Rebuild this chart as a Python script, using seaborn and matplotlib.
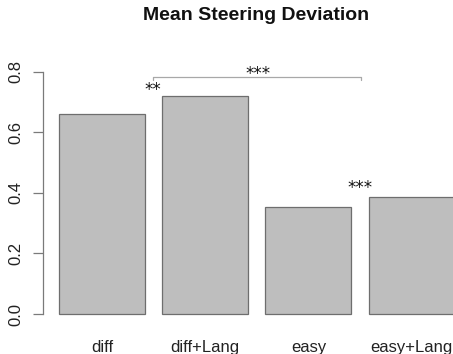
import matplotlib
matplotlib.use("Agg")
import matplotlib.pyplot as plt
import seaborn as sns
import pandas as pd

conditions = ["diff", "diff+Lang", "easy", "easy+Lang"]
mean_deviation = [0.660, 0.720, 0.353, 0.386]
y_ticks = [0.0, 0.2, 0.4, 0.6, 0.8]
y_tick_labels = ["0.0", "0.2", "0.4", "0.6", "0.8"]

sns.set_theme(style="white")
plt.rcParams["font.family"] = ["Liberation Sans", "DejaVu Sans"]

df = pd.DataFrame({"condition": conditions, "deviation": mean_deviation})

fig = plt.figure(figsize=(4.53, 3.54), dpi=100)
ax = fig.add_axes([43.2 / 453, (354 - 323.7) / 354, (453 - 43.2) / 453, (323.7 - 62) / 354])

sns.barplot(data=df, x="condition", y="deviation", color="#BEBEBE",
            saturation=1, width=1 / 1.2, edgecolor="#6E6E6E", linewidth=0.9, ax=ax)

ax.set_xlim(-0.570, 3.401)
ax.set_ylim(-0.032, 0.832)
ax.set_xlabel("")
ax.set_ylabel("")

for side in ["top", "right", "bottom"]:
    ax.spines[side].set_visible(False)
ax.spines["left"].set_bounds(0, 0.8)
ax.spines["left"].set_color("#7A7A7A")
ax.spines["left"].set_linewidth(0.9)

ax.set_yticks(y_ticks)
ax.set_yticklabels(y_tick_labels, rotation=90, va="center", fontsize=12, color="#222222")
ax.tick_params(axis="y", left=True, length=7, width=0.9, color="#7A7A7A", pad=7)
ax.tick_params(axis="x", bottom=False, labelsize=12, pad=5.5, colors="#222222")

# significance bracket between diff conditions and easy conditions
star_font = dict(family="DejaVu Sans", fontsize=12, color="#111111", ha="center", va="center")
bx0, bx1, by = 0.49, 2.505, 0.783
ax.plot([bx0, bx0, bx1, bx1], [by - 0.01, by, by, by - 0.01],
        color="#A8A8A8", linewidth=0.9, clip_on=False)
ax.text(1.51, 0.792, "***", **star_font)
ax.text(0.49, 0.740, "**", **star_font)
ax.text(2.50, 0.416, "***", **star_font)

fig.suptitle("Mean Steering Deviation", x=256 / 453, y=1 - 16 / 354, va="center",
             fontsize=14, fontweight="bold", color="#111111")

fig.savefig("out.png", dpi=100, facecolor="white")
